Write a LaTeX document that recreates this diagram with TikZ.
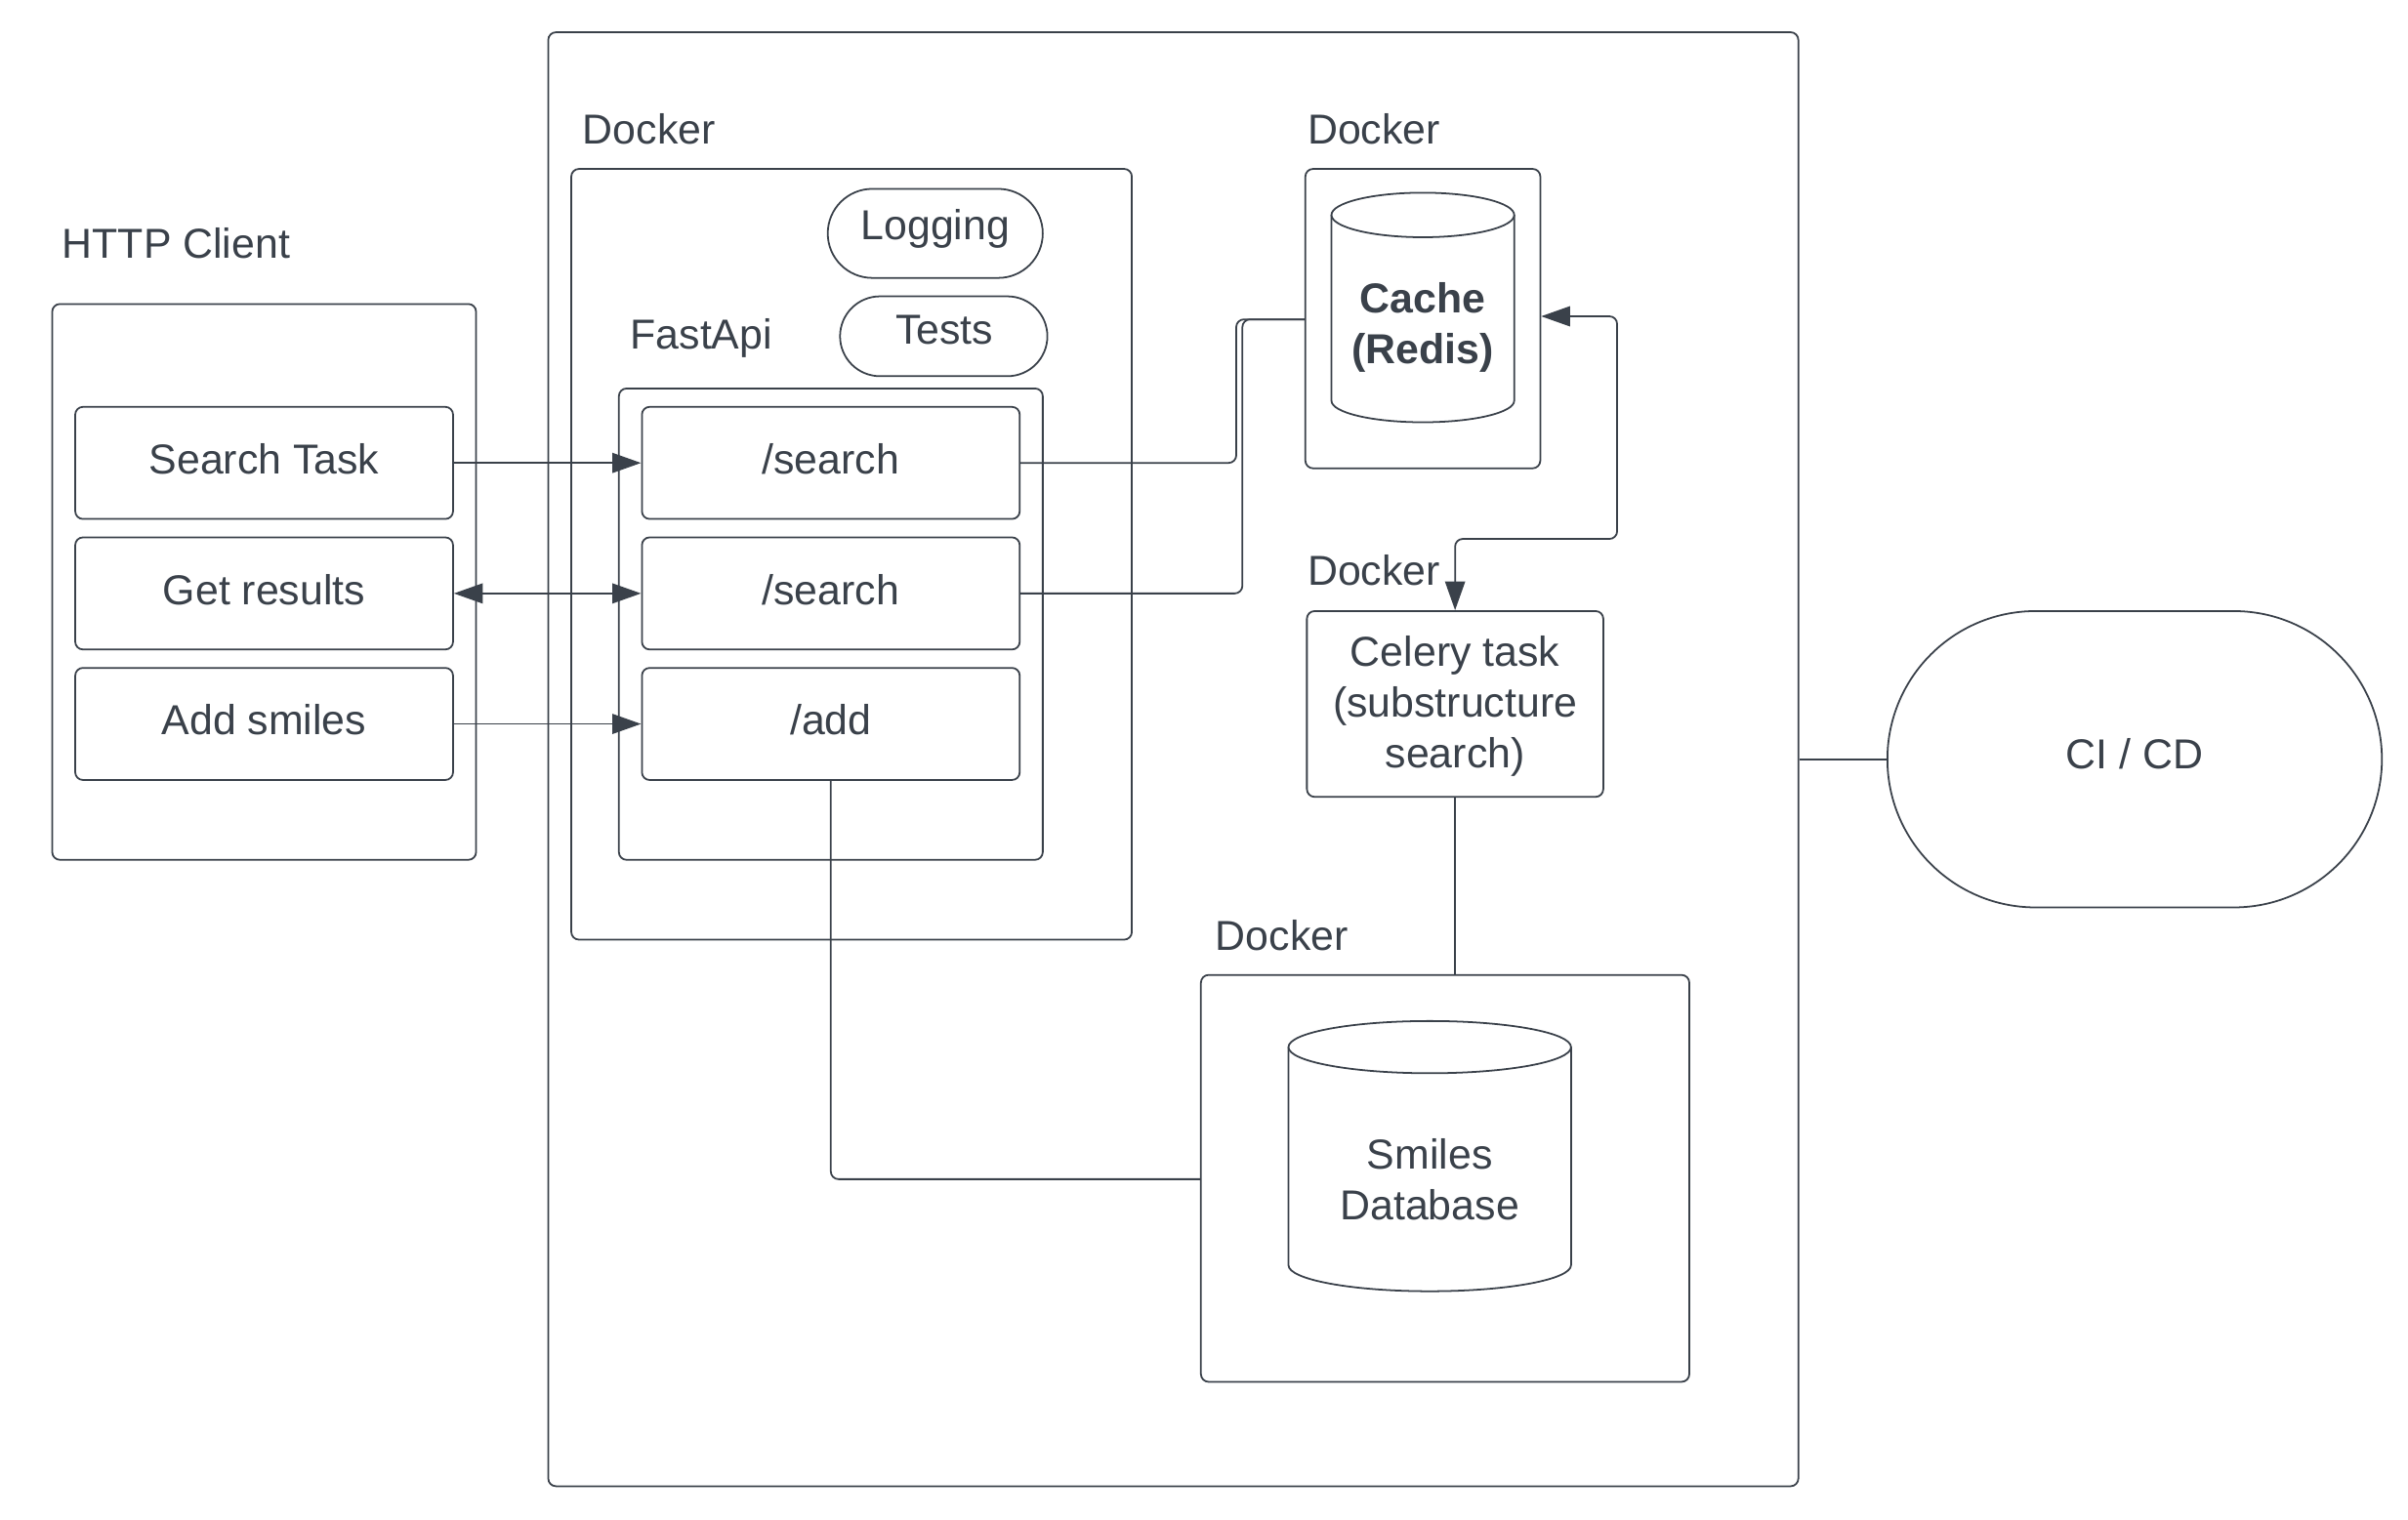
\documentclass[tikz,border=0pt]{standalone}
\usepackage{fontspec}
\setmainfont{Liberation Sans}
\usetikzlibrary{fit,arrows.meta}
\definecolor{ink}{RGB}{58,65,74}
\begin{document}
\begin{tikzpicture}[x=0.4pt,y=-0.4pt,
  every node/.style={text=ink},
  txt/.style={font=\fontsize{10.9}{13.2}\selectfont,inner sep=0pt},
  frame/.style={draw=ink,line width=0.45pt,rounded corners=2pt,inner sep=0pt,fit={#1}},
  lbl/.style={txt,anchor=base west},
  wire/.style={draw=ink,line width=0.45pt,rounded corners=2pt},
  arr/.style={wire,-{Triangle[length=7.5pt,width=5.2pt]}},
  darr/.style={wire,{Triangle[length=7.5pt,width=5.2pt]}-{Triangle[length=7.5pt,width=5.2pt]}},
  cyl/.style={draw=ink,line width=0.45pt,fill=white}
]
\useasboundingbox (0,0) rectangle (1568,989.4);

% outer container
\node[frame={(357,21) (1171,968)}] (outer) {};

% HTTP client
\node[lbl] (httpl) at (40,168) {HTTP Client};
\node[frame={(34,198) (310,560)}] (client) {};
\node[frame={(49,265) (295,338)}] (st) {};
\node[frame={(49,350) (295,423)}] (gr) {};
\node[frame={(49,435) (295,508)}] (as) {};
\node[txt] (stt) at (172,299) {Search Task};
\node[txt] (grt) at (172,384) {Get results};
\node[txt] (ast) at (172,469) {Add smiles};

% Docker 1 with FastApi
\node[lbl] (dl1) at (379,94) {Docker};
\node[frame={(372,110) (737,612)}] (d1) {};
\node[frame={(539,123) (679,181)},rounded corners=11.6pt] (log) {};
\node[txt] (logt) at (609,149) {Logging};
\node[frame={(547,193) (682,245)},rounded corners=10.4pt] (tests) {};
\node[txt] (testst) at (615,215) {Tests};
\node[lbl] (fal) at (410,227) {FastApi};
\node[frame={(403,253) (679,560)}] (fa) {};
\node[frame={(418,265) (664,338)}] (s1) {};
\node[frame={(418,350) (664,423)}] (s2) {};
\node[frame={(418,435) (664,508)}] (add) {};
\node[txt] (s1t) at (541,299) {/search};
\node[txt] (s2t) at (541,384) {/search};
\node[txt] (addt) at (541,469) {/add};

% Docker 2 with cache
\node[lbl] (dl2) at (851,94) {Docker};
\node[frame={(850,110) (1003,305)}] (d2) {};
\draw[cyl] (867,140) -- (867,261) arc[start angle=180,end angle=360,x radius=23.8pt,y radius=5.6pt] -- (986,140);
\draw[cyl] (926.5,140) ellipse[x radius=23.8pt,y radius=5.8pt];
\node[txt,font=\fontsize{10.9}{13.2}\selectfont\bfseries,align=center] (cache) at (926.5,213) {Cache\\(Redis)};

% Docker 3 celery
\node[lbl] (dl3) at (851,381) {Docker};
\node[frame={(851,398) (1044,519)}] (cel) {};
\node[txt,align=center] (celt) at (947.5,460) {Celery task\\(substructure\\search)};

% Docker 4 database
\node[lbl] (dl4) at (791,619) {Docker};
\node[frame={(782,635) (1100,900)}] (d4) {};
\draw[cyl] (839,682) -- (839,824) arc[start angle=180,end angle=360,x radius=36.8pt,y radius=6.8pt] -- (1023,682);
\draw[cyl] (931,682) ellipse[x radius=36.8pt,y radius=6.8pt];
\node[txt,align=center] (db) at (931,768) {Smiles\\Database};

% CI/CD
\node[frame={(1229,398) (1551,591)},rounded corners=38.6pt] (cicd) {};
\node[txt] (cicdt) at (1390,491) {CI / CD};

% coordinates for routing
\coordinate (j1) at (805,208);
\coordinate (j2) at (809,208);
\coordinate (k1) at (1053,351);
\coordinate (k2) at (1053,206);
\coordinate (m) at (0,768);

% connectors
\draw[arr] (st.east) -- (s1.west);
\draw[darr] (gr.east) -- (s2.west);
\draw[arr] (as.east) -- (add.west);
\path[wire] (s1.east) -| (j1) -- (d2.west |- j1);
\path[wire] (s2.east) -| (j2) -- (d2.west |- j2);
\path[darr] (d2.east |- k2) -- (k2) -- (k1) -| (cel.north);
\path[wire] (cel.south) -- (cel.south |- d4.north);
\path[wire] (add.south) |- (d4.west |- m);
\path[wire] (outer.east |- cicd.west) -- (cicd.west);
\end{tikzpicture}
\end{document}
